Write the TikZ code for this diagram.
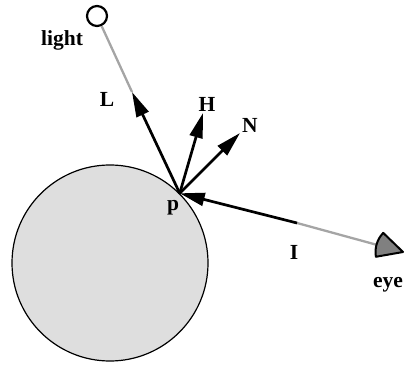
\documentclass[tikz,border=0pt]{standalone}
\usepackage{fontspec}
\setmainfont{Liberation Serif}
\usetikzlibrary{arrows.meta}
\definecolor{ballgray}{RGB}{222,222,222}
\definecolor{linegray}{RGB}{165,165,165}
\definecolor{eyegray}{RGB}{128,128,128}

\begin{document}
\begin{tikzpicture}[x=1pt,y=1pt,font=\fontsize{21.5}{24}\selectfont\bfseries,
  vec/.style={line width=2.7pt,-{Triangle[length=25pt,width=13pt]}},
  ray/.style={line width=2.3pt,linegray}]
\useasboundingbox (0,0) rectangle (406,364);
\node[circle,draw,fill=ballgray,line width=1.2pt,minimum size=196pt,inner sep=0pt] (ball) at (110,101) {};
\coordinate (p) at (ball.45);
\node[circle,draw,line width=2.2pt,minimum size=20pt,inner sep=0pt] (light) at (97,348) {};
\coordinate (Ltip) at (132,272);
\coordinate (Htip) at (203,251);
\coordinate (Ntip) at (240,231);
\coordinate (Itail) at (297,141);
\coordinate (eye) at (403,112);
\draw[ray] (light) -- (Ltip);
\draw[ray] (Itail) -- (eye);
\filldraw[fill=eyegray,line width=2pt,line join=round] (eye) -- ++(136:27.5) arc (136:190:27.5) -- cycle;
\draw[vec] (p) -- (Ltip);
\draw[vec] (p) -- (Htip);
\draw[vec] (p) -- (Ntip);
\draw[vec] (Itail) -- (p);
\node (lightlbl) at (62,324) {light};
\node (Llbl) at (107,265) {L};
\node (Hlbl) at (207,260) {H};
\node (Nlbl) at (250,239) {N};
\node (plbl) at (173,156) {p};
\node (Ilbl) at (294,112) {I};
\node (eyelbl) at (388,79) {eye};
\end{tikzpicture}
\end{document}
